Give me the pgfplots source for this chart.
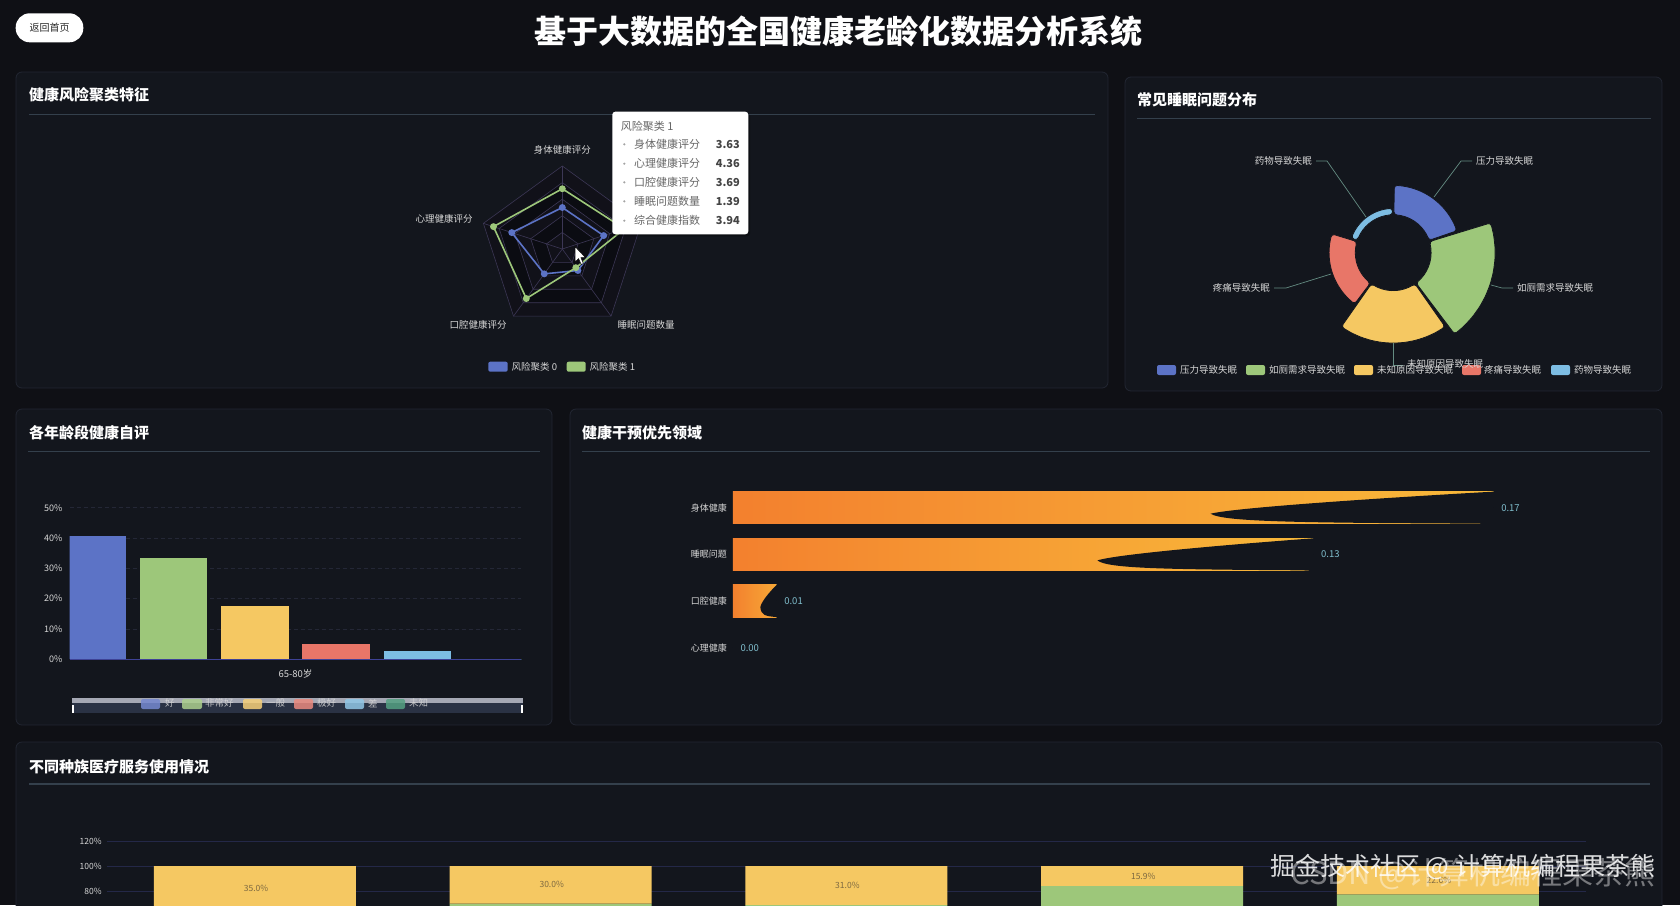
\documentclass[border=0pt]{standalone}
\usepackage{pgfplots}
\pgfplotsset{compat=1.18}
\usepgfplotslibrary{polar}
\usepackage{fontspec}
\setmainfont{Noto Sans CJK SC}
\definecolor{pagebg}{RGB}{15,16,21}
\definecolor{panelbg}{RGB}{19,22,29}
\definecolor{panelborder}{RGB}{34,38,50}
\definecolor{titleline}{RGB}{52,64,76}
\definecolor{ecblue}{RGB}{92,115,198}
\definecolor{ecgreen}{RGB}{157,199,122}
\definecolor{ecyellow}{RGB}{245,200,98}
\definecolor{ecred}{RGB}{232,118,104}
\definecolor{eclblue}{RGB}{125,189,227}
\definecolor{ecteal}{RGB}{84,160,130}
\definecolor{txt}{RGB}{215,215,215}
\definecolor{gridc}{RGB}{36,39,54}
\definecolor{radline}{RGB}{60,55,85}
\definecolor{radA}{RGB}{17,17,25}
\definecolor{radB}{RGB}{11,12,18}
\definecolor{orL}{RGB}{243,128,46}
\definecolor{orR}{RGB}{249,186,58}
\definecolor{vallab}{RGB}{128,190,205}
\definecolor{leader}{RGB}{100,140,130}
\definecolor{axisblue}{RGB}{62,66,150}
\definecolor{navygrid}{RGB}{36,40,72}
\definecolor{ttgray}{RGB}{102,102,102}
\definecolor{ttval}{RGB}{68,68,68}
\definecolor{btntext}{RGB}{40,40,40}
\definecolor{slidertop}{RGB}{165,168,180}
\definecolor{sliderbot}{RGB}{42,50,68}
\definecolor{barlab}{RGB}{125,105,65}

\newcommand{\panel}[4]{\fill[panelbg, draw=panelborder, line width=0.8pt, rounded corners=6pt] (#1pt,-#2pt) rectangle (#3pt,-#4pt);}
\newcommand{\ptitle}[3]{\node[anchor=west, inner sep=0pt, font=\fontsize{15}{18}\selectfont\bfseries, text=white] at (#1pt,-#2pt) {#3};}
\newcommand{\tline}[3]{\draw[titleline, line width=0.8pt] (#1pt,-#3pt) -- (#2pt,-#3pt);}
\newcommand{\notch}[2]{%
  \fill[panelbg] (axis cs:{0.628*#1},{#2-0.130})
    .. controls (axis cs:{0.66*#1},{#2+0.0}) and (axis cs:{0.85*#1},{#2+0.206}) .. (axis cs:{#1},{#2+0.343})
    -- (axis cs:{#1+0.0004},{#2+0.36}) -- (axis cs:{#1+0.0004},{#2-0.36})
    -- (axis cs:{0.98*#1},{#2-0.343})
    .. controls (axis cs:{0.75*#1},{#2-0.322}) and (axis cs:{0.645*#1},{#2-0.309}) .. cycle;}

\begin{document}
\begin{tikzpicture}[
  lab/.style={inner sep=0pt, font=\fontsize{9.5}{11}\selectfont, text=txt},
  tt/.style={inner sep=0pt, font=\fontsize{11}{13}\selectfont, text=ttgray},
  ttv/.style={inner sep=0pt, font=\fontsize{11}{13}\selectfont\bfseries, text=ttval},
  blab/.style={inner sep=0pt, font=\fontsize{8.5}{10}\selectfont, text=barlab}]
\fill[pagebg] (0,0) rectangle (1680pt,-905pt);

% button and title
\fill[white, rounded corners=14pt] (15.7pt,-13.3pt) rectangle (83.3pt,-42.3pt);
\node[inner sep=0pt, font=\fontsize{10}{12}\selectfont, text=btntext] at (49.5pt,-27.8pt) {返回首页};
\node[inner sep=0pt, font=\fontsize{32}{38}\selectfont\bfseries, text=white] at (838.5pt,-31.5pt) {基于大数据的全国健康老龄化数据分析系统};

% panels
\panel{16}{72}{1108}{388}
\panel{1125}{77}{1662}{391}
\panel{16}{409}{552}{725}
\panel{570}{409}{1662}{725}
\panel{16}{742}{1662}{940}
\ptitle{29}{95}{健康风险聚类特征}
\ptitle{1137}{100}{常见睡眠问题分布}
\ptitle{29}{433}{各年龄段健康自评}
\ptitle{582}{433}{健康干预优先领域}
\ptitle{29}{767}{不同种族医疗服务使用情况}
\tline{29}{1095}{114}
\tline{1137}{1651}{118}
\tline{28}{540}{451}
\tline{582}{1650}{451}
\draw[titleline, line width=1.6pt] (29pt,-784pt) -- (1650pt,-784pt);

% ---------------- radar ----------------
\begin{polaraxis}[at={(562.3pt,-249pt)}, anchor=center, scale only axis,
  width=166pt, height=166pt, ymin=0, ymax=5, hide axis, clip=false]
\addplot[draw=radline, line width=0.6pt, fill=radA] coordinates {(90,5)(162,5)(234,5)(306,5)(18,5)} --cycle;
\addplot[draw=radline, line width=0.6pt, fill=radB] coordinates {(90,4)(162,4)(234,4)(306,4)(18,4)} --cycle;
\addplot[draw=radline, line width=0.6pt, fill=radA] coordinates {(90,3)(162,3)(234,3)(306,3)(18,3)} --cycle;
\addplot[draw=radline, line width=0.6pt, fill=radB] coordinates {(90,2)(162,2)(234,2)(306,2)(18,2)} --cycle;
\addplot[draw=radline, line width=0.6pt, fill=radA] coordinates {(90,1)(162,1)(234,1)(306,1)(18,1)} --cycle;
\addplot[draw=radline, line width=0.6pt] coordinates {(90,0)(90,5)};
\addplot[draw=radline, line width=0.6pt] coordinates {(162,0)(162,5)};
\addplot[draw=radline, line width=0.6pt] coordinates {(234,0)(234,5)};
\addplot[draw=radline, line width=0.6pt] coordinates {(306,0)(306,5)};
\addplot[draw=radline, line width=0.6pt] coordinates {(18,0)(18,5)};
% 风险聚类 0
\addplot[ecblue, line width=1.6pt, mark=*, mark size=2.6pt, mark options={fill=ecblue, draw=ecblue}]
  coordinates {(90,2.50)(162,3.20)(234,1.85)(306,1.60)(18,2.62)} --cycle;
% 风险聚类 1
\addplot[ecgreen, line width=1.6pt, mark=*, mark size=2.6pt, mark options={fill=ecgreen, draw=ecgreen}]
  coordinates {(90,3.63)(162,4.36)(234,3.69)(306,1.39)(18,3.94)} --cycle;
\end{polaraxis}
\node[lab] at (562.3pt,-150pt) {身体健康评分};
\node[lab] at (444pt,-219.3pt) {心理健康评分};
\node[lab] at (478pt,-325pt) {口腔健康评分};
\node[lab] at (646pt,-325pt) {睡眠问题数量};
\fill[ecblue, rounded corners=2pt] (488.3pt,-361.7pt) rectangle (507.7pt,-371.7pt);
\node[lab, anchor=west] at (511.5pt,-366.7pt) {风险聚类 0};
\fill[ecgreen, rounded corners=2pt] (566.7pt,-361.7pt) rectangle (585.7pt,-371.7pt);
\node[lab, anchor=west] at (589.5pt,-366.7pt) {风险聚类 1};
% cursor
\filldraw[fill=white, draw=black, line width=0.5pt] (575pt,-246.5pt) -- (575pt,-262pt) -- (578.6pt,-258.6pt) -- (581.2pt,-264.5pt) -- (583.4pt,-263.5pt) -- (580.9pt,-257.7pt) -- (585.6pt,-257.7pt) -- cycle;
% tooltip
\fill[black, opacity=0.3, rounded corners=3pt] (613.5pt,-113pt) rectangle (750pt,-236.3pt);
\fill[white, rounded corners=3pt] (612.3pt,-111.7pt) rectangle (748.3pt,-234.3pt);
\node[tt, anchor=west] at (620.7pt,-126.5pt) {风险聚类 1};
\foreach \yy/\ll/\vv in {144.3/身体健康评分/3.63, 163.7/心理健康评分/4.36, 182.3/口腔健康评分/3.69, 201.3/睡眠问题数量/1.39, 220.7/综合健康指数/3.94}{
  \fill[ttgray!60] (624.3pt,-\yy pt) circle (1.2pt);
  \node[tt, anchor=west] at (634pt,-\yy pt) {\ll};
  \node[ttv, anchor=east] at (740pt,-\yy pt) {\vv};
}

% ---------------- rose pie ----------------
\begin{polaraxis}[at={(1393.2pt,-252.7pt)}, anchor=center, scale only axis,
  width=204pt, height=204pt, ymin=0, ymax=102, hide axis, clip=false,
  y filter/.expression={38+0.64*y}]
\addplot[fill=ecblue, draw=panelbg, line width=0.8pt, rounded corners=3pt] coordinates {(89,46)(82,46)(75,46)(68,46)(61,46)(54,46)(47,46)(40,46)(33,46)(26,46)(19,46)(19,0)(26,0)(33,0)(40,0)(47,0)(54,0)(61,0)(68,0)(75,0)(82,0)(89,0)} --cycle;
\addplot[fill=ecgreen, draw=panelbg, line width=0.8pt, rounded corners=3pt] coordinates {(17,100)(10,100)(3,100)(-4,100)(-11,100)(-18,100)(-25,100)(-32,100)(-39,100)(-46,100)(-53,100)(-53,0)(-46,0)(-39,0)(-32,0)(-25,0)(-18,0)(-11,0)(-4,0)(3,0)(10,0)(17,0)} --cycle;
\addplot[fill=ecyellow, draw=panelbg, line width=0.8pt, rounded corners=3pt] coordinates {(-55,82)(-62,82)(-69,82)(-76,82)(-83,82)(-90,82)(-97,82)(-104,82)(-111,82)(-118,82)(-125,82)(-125,0)(-118,0)(-111,0)(-104,0)(-97,0)(-90,0)(-83,0)(-76,0)(-69,0)(-62,0)(-55,0)} --cycle;
\addplot[fill=ecred, draw=panelbg, line width=0.8pt, rounded corners=3pt] coordinates {(-127,41)(-134,41)(-141,41)(-148,41)(-155,41)(-162,41)(-169,41)(-176,41)(-183,41)(-190,41)(-197,41)(-197,0)(-190,0)(-183,0)(-176,0)(-169,0)(-162,0)(-155,0)(-148,0)(-141,0)(-134,0)(-127,0)} --cycle;
\addplot[fill=eclblue, draw=panelbg, line width=0.8pt, rounded corners=3pt] coordinates {(161,10)(154,10)(147,10)(140,10)(133,10)(126,10)(119,10)(112,10)(105,10)(98,10)(91,10)(91,0)(98,0)(105,0)(112,0)(119,0)(126,0)(133,0)(140,0)(147,0)(154,0)(161,0)} --cycle;
\end{polaraxis}
\draw[leader, line width=0.7pt] (1434pt,-197pt) -- (1461pt,-161pt) -- (1472pt,-161pt);
\node[lab, anchor=west] at (1476pt,-161pt) {压力导致失眠};
\draw[leader, line width=0.7pt] (1366pt,-217pt) -- (1327pt,-161pt) -- (1316pt,-161pt);
\node[lab, anchor=east] at (1312pt,-161pt) {药物导致失眠};
\draw[leader, line width=0.7pt] (1491pt,-285pt) -- (1502pt,-288pt) -- (1513pt,-288pt);
\node[lab, anchor=west] at (1517pt,-288pt) {如厕需求导致失眠};
\draw[leader, line width=0.7pt] (1331pt,-274pt) -- (1286pt,-288pt) -- (1274pt,-288pt);
\node[lab, anchor=east] at (1270pt,-288pt) {疼痛导致失眠};
\draw[leader, line width=0.7pt] (1393pt,-343pt) -- (1393pt,-365pt) -- (1403pt,-365pt);
% legend
\fill[ecblue, rounded corners=2pt] (1157pt,-365pt) rectangle (1176pt,-375pt);
\node[lab, anchor=west] at (1180pt,-370pt) {压力导致失眠};
\fill[ecgreen, rounded corners=2pt] (1246pt,-365pt) rectangle (1265pt,-375pt);
\node[lab, anchor=west] at (1269pt,-370pt) {如厕需求导致失眠};
\fill[ecyellow, rounded corners=2pt] (1354pt,-365pt) rectangle (1373pt,-375pt);
\node[lab, anchor=west] at (1377pt,-370pt) {未知原因导致失眠};
\fill[ecred, rounded corners=2pt] (1462pt,-365pt) rectangle (1481pt,-375pt);
\node[lab, anchor=west] at (1484pt,-370pt) {疼痛导致失眠};
\fill[eclblue, rounded corners=2pt] (1551pt,-365pt) rectangle (1570pt,-375pt);
\node[lab, anchor=west] at (1574pt,-370pt) {药物导致失眠};
\node[lab, anchor=west] at (1407pt,-364pt) {未知原因导致失眠};

% ---------------- age self-rating bars ----------------
\begin{axis}[at={(69.6pt,-659.3pt)}, anchor=south west, scale only axis,
  width=451.8pt, height=151.6pt, xmin=-1, xmax=1, ymin=0, ymax=50,
  ybar=13.7pt, bar width=67.5pt,
  axis line style={draw=none}, tick style={draw=none},
  xtick={0}, xticklabels={65-80岁},
  ytick={0,10,20,30,40,50}, yticklabels={0\%,10\%,20\%,30\%,40\%,50\%},
  ymajorgrids, grid style={gridc, line width=0.7pt, dash pattern=on 4pt off 3pt},
  yticklabel style={font=\fontsize{9}{11}\selectfont, text=txt, inner sep=0pt, xshift=-7pt},
  xticklabel style={font=\fontsize{9.5}{11}\selectfont, text=txt, inner sep=0pt, yshift=-6pt}]
\addplot[fill=ecblue, draw=none] coordinates {(0,40.8)};
\addplot[fill=ecgreen, draw=none] coordinates {(0,33.5)};
\addplot[fill=ecyellow, draw=none] coordinates {(0,17.6)};
\addplot[fill=ecred, draw=none] coordinates {(0,4.9)};
\addplot[fill=eclblue, draw=none] coordinates {(0,2.8)};
\addplot[fill=ecteal, draw=none] coordinates {(0,0.2)};
\end{axis}
\draw[axisblue, line width=1.5pt] (69.6pt,-659.3pt) -- (521.4pt,-659.3pt);
% slider + legend
\fill[slidertop] (71.7pt,-697.7pt) rectangle (522.7pt,-703.3pt);
\fill[sliderbot] (71.7pt,-703.3pt) rectangle (522.7pt,-712.7pt);
\fill[white] (71.7pt,-705pt) rectangle (73.5pt,-712.7pt);
\fill[white] (520.9pt,-705pt) rectangle (522.7pt,-712.7pt);
\begin{scope}[opacity=0.85]
\fill[ecblue!85!white, rounded corners=2pt] (141pt,-699pt) rectangle (160pt,-709pt);
\node[lab, anchor=west] at (165pt,-703.3pt) {好};
\fill[ecgreen!85!white, rounded corners=2pt] (182pt,-699pt) rectangle (202pt,-709pt);
\node[lab, anchor=west] at (205pt,-703.3pt) {非常好};
\fill[ecyellow!85!white, rounded corners=2pt] (243pt,-699pt) rectangle (262pt,-709pt);
\node[lab, anchor=west] at (266pt,-703.3pt) {一般};
\fill[ecred!85!white, rounded corners=2pt] (294pt,-699pt) rectangle (313pt,-709pt);
\node[lab, anchor=west] at (317pt,-703.3pt) {极好};
\fill[eclblue!85!white, rounded corners=2pt] (345pt,-699pt) rectangle (364pt,-709pt);
\node[lab, anchor=west] at (368pt,-703.3pt) {差};
\fill[ecteal, rounded corners=2pt] (386pt,-699pt) rectangle (405pt,-709pt);
\node[lab, anchor=west] at (409pt,-703.3pt) {未知};
\end{scope}

% ---------------- intervention priority ----------------
\begin{axis}[at={(732.8pt,-671pt)}, anchor=south west, scale only axis,
  width=894pt, height=186.7pt, xmin=0, xmax=0.2, ymin=-0.5, ymax=3.5,
  axis line style={draw=none}, tick style={draw=none},
  xtick=\empty, ytick={0,1,2,3}, yticklabels={心理健康,口腔健康,睡眠问题,身体健康},
  yticklabel style={font=\fontsize{9}{11}\selectfont, text=txt, inner sep=0pt, xshift=-5.8pt},
  bar width=32pt, bar shift=0pt, clip=false,
  /pgf/number format/assume math mode=true]
\addplot[xbar, draw=none, left color=orL, right color=orR] coordinates {(0.1702,3)};
\addplot[xbar, draw=none, left color=orL, right color=orR] coordinates {(0.1299,2)};
\addplot[xbar, draw=none, left color=orL, right color=orR!70!orL] coordinates {(0.0098,1)};
\notch{0.1702}{3}
\notch{0.1299}{2}
\notch{0.0098}{1}
\addplot[only marks, mark=*, mark size=0pt, nodes near coords={\pgfmathprintnumber[fixed,fixed zerofill,precision=2]{\pgfplotspointmeta}},
  point meta=x, nodes near coords style={anchor=west, inner sep=0pt, xshift=7.5pt, font=\fontsize{9.5}{11}\selectfont, text=vallab}]
  coordinates {(0.1702,3)(0.1299,2)(0.0098,1)(0,0)};
\end{axis}

% ---------------- ethnicity stacked bars ----------------
\begin{axis}[at={(107pt,-991pt)}, anchor=south west, scale only axis,
  width=1478.7pt, height=150pt, xmin=-0.5, xmax=4.5, ymin=0, ymax=120,
  ybar stacked, reverse stacked plots=false, bar width=202pt,
  axis line style={draw=none}, tick style={draw=none},
  xtick=\empty, ytick={80,100,120}, yticklabels={80\%,100\%,120\%},
  ymajorgrids, grid style={navygrid, line width=0.9pt},
  yticklabel style={font=\fontsize{8.5}{10}\selectfont, text=txt, inner sep=0pt, xshift=-5.2pt},
  clip=false]
\addplot[fill=ecgreen, draw=none] coordinates {(0,65.0)(1,70.0)(2,69.0)(3,84.1)(4,77.4)};
\addplot[fill=ecyellow, draw=none] coordinates {(0,35.0)(1,30.0)(2,31.0)(3,15.9)(4,22.6)};
\end{axis}
% segment labels (centre of each yellow segment: 100% - value/2, 1.25pt per %)
\node[blab] at (256pt,-887.9pt) {35.0\%};
\node[blab] at (551.7pt,-884.8pt) {30.0\%};
\node[blab] at (847.4pt,-885.4pt) {31.0\%};
\node[blab] at (1143.2pt,-875.9pt) {15.9\%};
\node[blab] at (1438.9pt,-880.1pt) {22.6\%};

% watermark
\node[anchor=west, inner sep=0pt, font=\fontsize{31}{36}\selectfont, text=white, opacity=0.42] at (1290pt,-874pt) {CSDN @计算机编程果茶熊};
\node[anchor=west, inner sep=0pt, font=\fontsize{25}{30}\selectfont, text=white, opacity=0.85] at (1270pt,-867pt) {掘金技术社区 @ 计算机编程果茶熊};

\pgfresetboundingbox
\path[use as bounding box] (0,0) rectangle (1680pt,-905pt);
\end{tikzpicture}
\end{document}
